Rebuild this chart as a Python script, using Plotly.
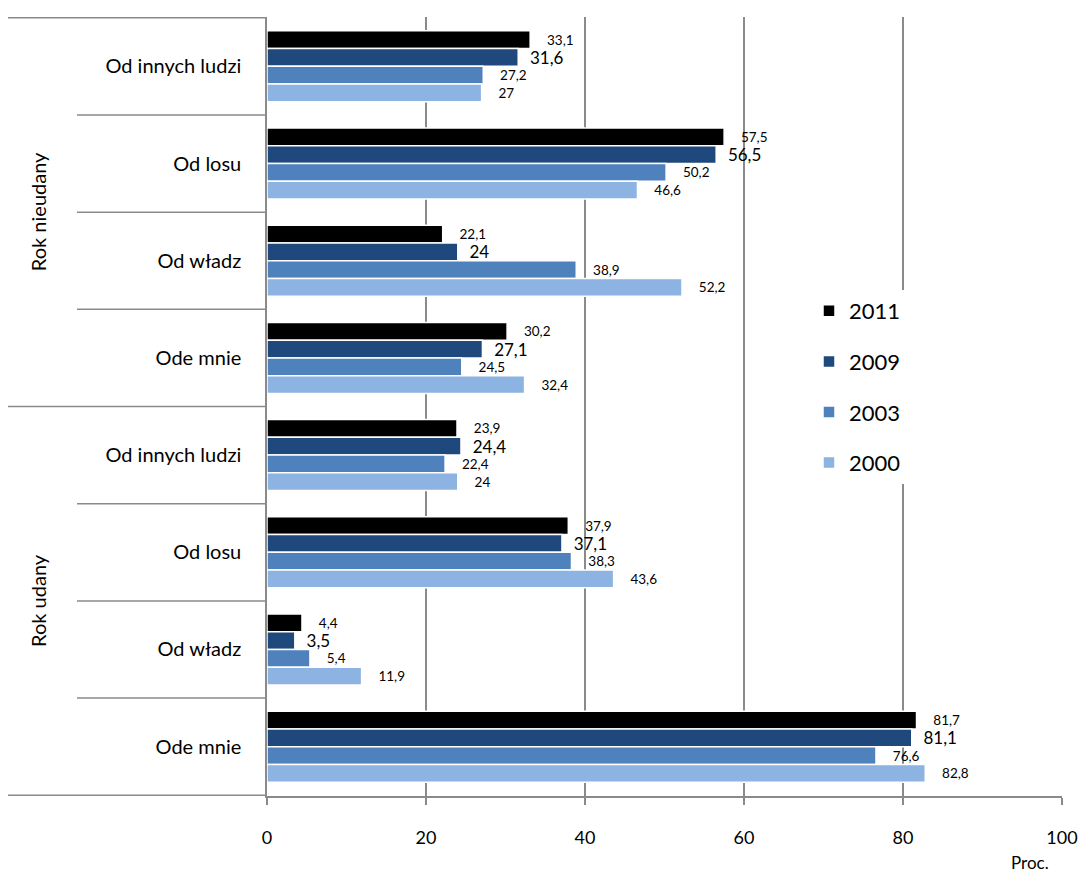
import plotly.graph_objects as go

groups = ["Rok nieudany", "Rok udany"]
sources = ["Od innych ludzi", "Od losu", "Od władz", "Ode mnie"]
series_names = ["2011", "2009", "2003", "2000"]
v2011 = [33.1, 57.5, 22.1, 30.2, 23.9, 37.9, 4.4, 81.7]
v2009 = [31.6, 56.5, 24.0, 27.1, 24.4, 37.1, 3.5, 81.1]
v2003 = [27.2, 50.2, 38.9, 24.5, 22.4, 38.3, 5.4, 76.6]
v2000 = [27.0, 46.6, 52.2, 32.4, 24.0, 43.6, 11.9, 82.8]
x_ticks = [0, 20, 40, 60, 80, 100]

values = [v2011, v2009, v2003, v2000]
colors = ["#000000", "#1f497d", "#4f81bd", "#8db3e2"]
label_sizes = [13.5, 17, 13.5, 13.5]
pads = ["\u00a0" * 4, "\u00a0" * 2, "\u00a0" * 4, "\u00a0" * 4]

cat_keys = [f"{g}|{s}" for g in groups for s in sources]
cat_text = [s for g in groups for s in sources]

FONT = "Lato, Carlito, 'Open Sans', sans-serif"

def fmt(v):
    s = f"{v:.1f}".replace(".", ",")
    if s.endswith(",0"):
        s = s[:-2]
    return s

fig = go.Figure()
for name, vals, col, fs, pad in zip(series_names, values, colors, label_sizes, pads):
    fig.add_trace(go.Bar(
        name=name + "\u00a0\u00a0", y=cat_keys, x=vals, orientation="h",
        marker=dict(color=col, line=dict(color="white", width=1.5)),
        text=[pad + fmt(v) for v in vals], textposition="outside",
        textfont=dict(size=fs, color="#000000", family=FONT),
        constraintext="none", cliponaxis=False,
        legendgroup=name,
    ))

shapes = []
for i in range(len(cat_keys) + 1):
    ypos = i - 0.5
    outer = (i % len(sources) == 0)
    shapes.append(dict(type="line", xref="paper", yref="y",
                       x0=(8 - 267) / 795 if outer else (77 - 267) / 795, x1=0,
                       y0=ypos, y1=ypos, line=dict(color="#8a8a8a", width=1.5)))

annotations = []
for gi, g in enumerate(groups):
    mid = gi * len(sources) + (len(sources) - 1) / 2
    annotations.append(dict(text=g, xref="paper", yref="y", x=(38 - 267) / 795, y=mid,
                            textangle=-90, showarrow=False, xanchor="center", yanchor="middle",
                            font=dict(size=20, color="#000000", family=FONT)))
annotations.append(dict(text="Proc.", xref="paper", yref="paper", x=(1030 - 267) / 795,
                        y=-0.085, showarrow=False, xanchor="center", yanchor="middle",
                        font=dict(size=17, color="#000000", family=FONT)))

fig.update_layout(
    width=1083, height=876,
    margin=dict(l=267, r=21, t=17, b=80, autoexpand=False),
    barmode="group", bargap=0.27, bargroupgap=0.0,
    plot_bgcolor="white", paper_bgcolor="white",
    font=dict(family=FONT, color="#000000"),
    shapes=shapes, annotations=annotations,
    showlegend=True,
    legend=dict(x=(809 - 267) / 795, y=(796 - 290) / 779, xanchor="left", yanchor="top",
                bgcolor="white", font=dict(size=22, color="#000000", family=FONT),
                tracegroupgap=19, traceorder="grouped"),
    xaxis=dict(range=[0, 100], tickvals=x_ticks, showgrid=True, gridcolor="#8a8a8a",
               gridwidth=1.5, showline=True, linecolor="#8a8a8a", linewidth=1.5,
               ticks="outside", ticklen=7, tickcolor="#8a8a8a", tickwidth=1.5,
               ticklabelstandoff=18, zeroline=False, automargin=False,
               tickfont=dict(size=18, color="#000000", family=FONT)),
    yaxis=dict(categoryorder="array", categoryarray=cat_keys, autorange="reversed",
               tickvals=cat_keys, ticktext=cat_text, showgrid=False,
               showline=True, linecolor="#8a8a8a", linewidth=1.5, ticks="",
               ticklabelstandoff=20, zeroline=False, automargin=False,
               tickfont=dict(size=20, color="#000000", family=FONT)),
)

fig.write_html("out.html", post_script="document.body.style.margin='0px';",
               config={"displayModeBar": False})
